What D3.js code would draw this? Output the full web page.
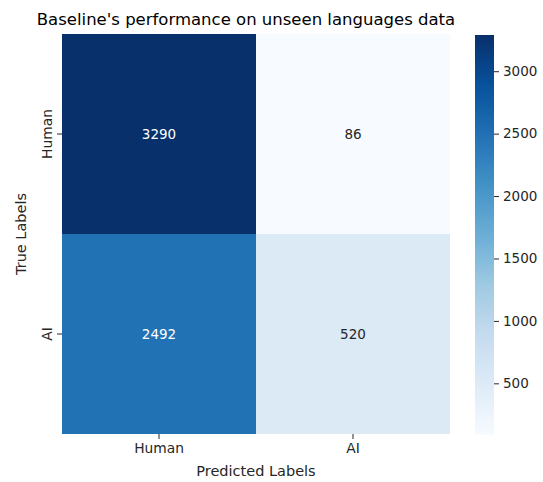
<!DOCTYPE html>
<html><head><meta charset="utf-8">
<script src="https://cdn.jsdelivr.net/npm/d3@7"></script>
<style>body{margin:0;background:#fff}text{font-family:"DejaVu Sans",sans-serif}</style>
</head><body><svg id="c" width="543" height="482"></svg>
<script>
const predLabels = ["Human", "AI"];
const trueLabels = ["Human", "AI"];
const values = [[3290, 86], [2492, 520]];
const cbTicks = [500, 1000, 1500, 2000, 2500, 3000];
const title = "Baseline's performance on unseen languages data";
const blues = ["#f7fbff","#deebf7","#c6dbef","#9ecae1","#6baed6","#4292c6","#2171b5","#08519c","#08306b"];

const svg = d3.select("#c");
const L = 62, R = 450, T = 34, B = 434;
const flat = values.flat();
const vmin = d3.min(flat), vmax = d3.max(flat);
const x = d3.scaleBand().domain(predLabels).range([L, R]);
const y = d3.scaleBand().domain(trueLabels).range([T, B]);
const cmap = d3.scaleLinear().domain(d3.range(blues.length).map(i => i / (blues.length - 1))).range(blues).interpolate(d3.interpolateRgb);
const color = v => cmap((v - vmin) / (vmax - vmin));

const cells = [];
trueLabels.forEach((t, i) => predLabels.forEach((p, j) => cells.push({t, p, v: values[i][j]})));
svg.selectAll("rect.cell").data(cells).enter().append("rect")
  .attr("x", d => x(d.p)).attr("y", d => y(d.t))
  .attr("width", x.bandwidth()).attr("height", y.bandwidth())
  .attr("fill", d => color(d.v)).attr("shape-rendering", "crispEdges");
svg.selectAll("text.ann").data(cells).enter().append("text")
  .attr("x", d => x(d.p) + x.bandwidth() / 2).attr("y", d => y(d.t) + y.bandwidth() / 2)
  .attr("dy", "0.35em").attr("text-anchor", "middle").attr("font-size", 13.5)
  .attr("fill", d => (d.v - vmin) / (vmax - vmin) > 0.5 ? "#ffffff" : "#262626")
  .text(d => d.v);

// axes
const xa = svg.append("g").attr("transform", `translate(0,${B})`).call(d3.axisBottom(x).tickSize(5).tickPadding(4));
const ya = svg.append("g").attr("transform", `translate(${L},0)`).call(d3.axisLeft(y).tickSize(5).tickPadding(4));
[xa, ya].forEach(a => { a.select(".domain").remove(); a.selectAll("line").attr("stroke", "#262626"); a.selectAll("text").attr("font-size", 13.8).attr("fill", "#262626").attr("font-family", "DejaVu Sans"); });
ya.selectAll(".tick text").attr("transform", "rotate(-90)").attr("text-anchor", "middle").attr("x", 0).attr("y", -10).attr("dy", "0");

svg.append("text").attr("x", (L + R) / 2).attr("y", 476).attr("text-anchor", "middle").attr("font-size", 14.5).attr("fill", "#262626").text("Predicted Labels");
svg.append("text").attr("transform", `translate(26,${(T + B) / 2}) rotate(-90)`).attr("text-anchor", "middle").attr("font-size", 14.5).attr("fill", "#262626").text("True Labels");
svg.append("text").attr("x", 246).attr("y", 25).attr("text-anchor", "middle").attr("font-size", 16.5).attr("fill", "#000").text(title);

// colorbar
const cbX = 475, cbW = 19;
const cy = d3.scaleLinear().domain([vmin, vmax]).range([B + 1, T + 1]);
const defs = svg.append("defs");
const grad = defs.append("linearGradient").attr("id", "g").attr("x1", 0).attr("y1", 1).attr("x2", 0).attr("y2", 0);
grad.selectAll("stop").data(d3.range(0, 1.0001, 0.02)).enter().append("stop")
  .attr("offset", d => d).attr("stop-color", d => cmap(d));
svg.append("rect").attr("x", cbX).attr("y", cy(vmax)).attr("width", cbW).attr("height", cy(vmin) - cy(vmax)).attr("fill", "url(#g)");
const ca = svg.append("g").attr("transform", `translate(${cbX + cbW},0)`).call(d3.axisRight(cy).tickValues(cbTicks).tickSize(5).tickPadding(4).tickFormat(d3.format("d")));
ca.select(".domain").remove();
ca.selectAll("line").attr("stroke", "#262626");
ca.selectAll("text").attr("font-size", 13.5).attr("fill", "#262626").attr("font-family", "DejaVu Sans");
</script></body></html>
